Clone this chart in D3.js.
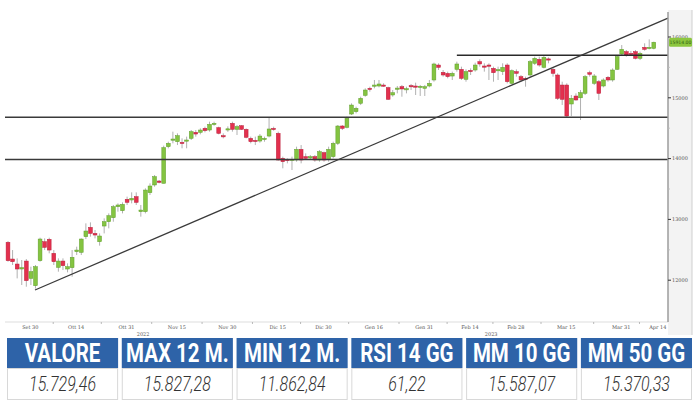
<!DOCTYPE html>
<html>
<head>
<meta charset="utf-8">
<script src="https://cdn.jsdelivr.net/npm/d3@7"></script>
<style>
html,body{margin:0;padding:0;background:#fff;}
svg{display:block;}
</style>
</head>
<body>
<script>
// ---- DATA ----
const openV = [12623,12348,12266,12184,12315,12030,11910,12321,12633,12672,12442,12211,12315,12184,12206,12469,12458,12716,12869,12770,
12633,12891,12962,13028,13209,13143,13330,13319,13374,13127,13127,13439,13566,13631,13593,14196,14306,14278,14267,14289,
14333,14432,14432,14498,14470,14563,14509,14377,14470,14580,14481,14541,14481,14333,14300,14289,14316,14371,14497,14415,
14004,13988,13977,13977,14152,14032,14010,14032,13977,14098,13988,14032,14251,14536,14514,14733,14772,14909,15040,15156,
15200,15194,15210,15167,15046,15150,15183,15145,15200,15194,15183,15156,15194,15293,15539,15419,15402,15358,15468,15468,
15304,15451,15457,15594,15523,15539,15484,15457,15430,15539,15238,15430,15348,15320,15375,15567,15632,15501,15640,15468,
15375,15210,15210,14898,15029,15000,15073,15413,15238,15265,15194,15337,15293,15468,15720,15759,15730,15759,15649,15830,
15830,15813];
const highV = [12644,12496,12359,12332,12348,12222,12250,12699,12688,12699,12496,12359,12359,12277,12496,12551,12688,12935,12951,12825,
12770,13017,13099,13237,13264,13280,13374,13445,13445,13237,13511,13593,13730,13648,14213,14278,14443,14415,14333,14361,
14470,14470,14498,14525,14607,14607,14525,14415,14530,14607,14552,14552,14497,14361,14361,14404,14361,14678,14525,14443,
14032,14004,14032,14196,14223,14086,14059,14059,14141,14114,14196,14278,14552,14552,14690,14909,14854,15018,15156,15183,
15293,15293,15238,15183,15128,15194,15211,15183,15227,15249,15211,15211,15293,15578,15567,15457,15430,15430,15594,15512,
15468,15484,15578,15632,15567,15567,15512,15512,15567,15567,15468,15468,15375,15348,15621,15676,15676,15687,15665,15501,
15402,15265,15238,15046,15073,15128,15375,15446,15391,15293,15320,15358,15484,15704,15868,15786,15770,15786,15759,15896,
15961,15923];
const lowV = [12304,12250,12030,11921,11893,11921,11862,12304,12496,12442,12250,12140,12167,12129,12058,12414,12414,12677,12716,12688,
12568,12770,12853,12962,13127,13099,13237,13264,13237,13045,13099,13401,13538,13593,13593,14169,14251,14223,14169,14169,
14306,14361,14399,14432,14443,14541,14399,14333,14440,14443,14388,14470,14333,14251,14223,14262,14278,14350,14459,13966,
13840,13922,13812,13949,13922,13977,13988,13949,13949,13949,13949,14004,14223,14470,14497,14717,14744,14881,15018,15101,
15156,15172,15183,14964,15018,15073,15018,15073,15128,15046,15030,15030,15172,15265,15457,15348,15320,15293,15430,15293,
15265,15375,15430,15512,15430,15293,15265,15293,15375,15238,15227,15348,15265,15183,15348,15539,15512,15484,15567,15348,
14964,14882,14678,14700,14953,14635,15046,15348,15210,14964,15172,15265,15265,15457,15687,15676,15700,15632,15621,15775,
15797,15797];
const closeV = [12321,12304,12184,12206,11992,12140,12222,12677,12540,12496,12304,12315,12239,12222,12376,12496,12677,12809,12770,12743,
12727,12962,13061,13209,13237,13247,13280,13346,13280,13154,13483,13549,13703,13609,14180,14251,14322,14377,14251,14306,
14443,14404,14470,14459,14563,14580,14415,14361,14490,14481,14525,14481,14350,14278,14295,14371,14333,14487,14481,13977,
13949,13966,13988,14152,13977,14004,14032,13977,14114,13977,14152,14251,14536,14497,14662,14881,14827,14991,15128,15139,
15210,15227,15205,14975,15084,15160,15145,15150,15183,15190,15190,15183,15238,15556,15501,15375,15348,15402,15556,15320,
15430,15430,15539,15556,15512,15523,15413,15463,15501,15265,15446,15402,15293,15310,15594,15649,15539,15665,15632,15402,
14991,14975,14700,14991,14964,15084,15347,15386,15359,15073,15293,15293,15457,15676,15797,15704,15720,15649,15731,15797,
15830,15914];

const xTickLabels = ["Set 30","Ott 14","Ott 31","Nov 15","Nov 30","Dic 15","Dic 30","Gen 16","Gen 31","Feb 14","Feb 28","Mar 15","Mar 31","Apr 14"];
const xTickIdx    = [4,14,25,36,47,58,68,79,90,100,110,121,133,141];
const yearLabels  = ["2022","2023"];
const yearIdx     = [29.5,105.5];
const yTicks      = [12000,13000,14000,15000,16000];
const levelValues = [14680,13985];          // full-width support/resistance
const shortLevel  = {fromIdx:98, value:15700};
const trendPts    = [[5.9,11839],[144.1,16312]];

const headers = ["VALORE","MAX 12 M.","MIN 12 M.","RSI 14 GG","MM 10 GG","MM 50 GG"];
const values  = ["15.729,46","15.827,28","11.862,84","61,22","15.587,07","15.370,33"];

// ---- DRAW ----
const svg = d3.select("body").append("svg").attr("width",700).attr("height",400);
const candles = openV.map((o,i)=>({i,o,h:highV[i],l:lowV[i],c:closeV[i]}));

const x = d3.scaleLinear().domain([0,141]).range([8,653.8]);
const y = d3.scaleLinear().domain([12000,16000]).range([280.2,37]);
const plotL = 5, plotR = 668, axisY = 322;

// right panel
svg.append("rect").attr("x",plotR).attr("y",10).attr("width",24).attr("height",325)
  .attr("fill","#f3f3f3");
svg.append("line").attr("x1",692).attr("x2",692).attr("y1",10).attr("y2",335)
  .attr("stroke","#cfcfcf").attr("stroke-width",1);

// bottom axis line
svg.append("line").attr("x1",plotL).attr("x2",plotR).attr("y1",axisY).attr("y2",axisY)
  .attr("stroke","#d4d4d4").attr("stroke-width",0.8);

// candles
const g = svg.append("g");
g.selectAll("line.wick").data(candles).join("line").attr("class","wick")
  .attr("x1",d=>x(d.i)).attr("x2",d=>x(d.i))
  .attr("y1",d=>y(d.h)).attr("y2",d=>y(d.l))
  .attr("stroke","#a8a8a8").attr("stroke-width",0.9);
g.selectAll("rect.body").data(candles).join("rect").attr("class","body")
  .attr("x",d=>x(d.i)-1.9).attr("width",3.8)
  .attr("y",d=>Math.min(y(d.o),y(d.c)))
  .attr("height",d=>Math.max(1.2,Math.abs(y(d.o)-y(d.c))))
  .attr("fill",d=>d.c>=d.o?"#84c441":"#e3304e")
  .attr("stroke",d=>d.c>=d.o?"#5f9e2a":"#b91f3a").attr("stroke-width",0.5);

// level lines
svg.selectAll("line.level").data(levelValues).join("line").attr("class","level")
  .attr("x1",plotL).attr("x2",plotR).attr("y1",d=>y(d)).attr("y2",d=>y(d))
  .attr("stroke","#3a3a3a").attr("stroke-width",1.3);
svg.append("line").attr("x1",x(shortLevel.fromIdx)).attr("x2",plotR)
  .attr("y1",y(shortLevel.value)).attr("y2",y(shortLevel.value))
  .attr("stroke","#2a2a2a").attr("stroke-width",1.4);
// trend line
svg.append("line")
  .attr("x1",x(trendPts[0][0])).attr("y1",y(trendPts[0][1]))
  .attr("x2",x(trendPts[1][0])).attr("y2",y(trendPts[1][1]))
  .attr("stroke","#3a3a3a").attr("stroke-width",1.3);

// right axis
const yAxis = svg.append("g");
yAxis.append("line").attr("x1",plotR).attr("x2",plotR).attr("y1",12).attr("y2",axisY)
  .attr("stroke","#9c9c9c").attr("stroke-width",1.5);
const minor = d3.range(12500,16000,1000);
yAxis.selectAll("line.minor").data(minor).join("line").attr("class","minor")
  .attr("x1",plotR).attr("x2",plotR+2).attr("y1",d=>y(d)).attr("y2",d=>y(d))
  .attr("stroke","#bbb").attr("stroke-width",0.8);
yAxis.selectAll("line.major").data(yTicks).join("line").attr("class","major")
  .attr("x1",plotR).attr("x2",plotR+3).attr("y1",d=>y(d)).attr("y2",d=>y(d))
  .attr("stroke","#333").attr("stroke-width",1);
yAxis.selectAll("text").data(yTicks).join("text")
  .attr("x",plotR+4).attr("y",d=>y(d)).attr("dy","0.35em")
  .attr("font-family","DejaVu Serif, serif").attr("font-size",5).attr("fill","#555")
  .text(d=>d);

// last price tag
const last = candles[candles.length-1];
svg.append("rect").attr("x",plotR+1).attr("y",y(last.c)-4.5).attr("width",23).attr("height",9)
  .attr("rx",1.5).attr("fill","#8cc63f");
svg.append("text").attr("x",plotR+12.5).attr("y",y(last.c)).attr("dy","0.35em")
  .attr("text-anchor","middle").attr("font-family","DejaVu Sans, sans-serif")
  .attr("font-size",4.6).attr("fill","#2f5f12").text(last.c.toFixed(2));

// x axis labels
const xl = svg.append("g");
xl.selectAll("text").data(xTickIdx).join("text")
  .attr("x",d=>x(d)+4).attr("y",axisY+6.5).attr("text-anchor","middle")
  .attr("font-family","DejaVu Serif, serif").attr("font-size",5).attr("fill","#555")
  .text((d,i)=>xTickLabels[i]);
const mids = xTickIdx.slice(0,-1).map((d,i)=>(d+xTickIdx[i+1])/2);
xl.selectAll("line").data(mids).join("line")
  .attr("x1",d=>x(d)+4).attr("x2",d=>x(d)+4).attr("y1",axisY).attr("y2",axisY+2)
  .attr("stroke","#aaa").attr("stroke-width",0.8);
xl.selectAll("text.year").data(yearIdx).join("text").attr("class","year")
  .attr("x",d=>x(d)).attr("y",axisY+14).attr("text-anchor","middle")
  .attr("font-family","DejaVu Serif, serif").attr("font-size",5).attr("fill","#555")
  .text((d,i)=>yearLabels[i]);

// table
const cx = d3.scaleBand().domain(d3.range(headers.length)).range([7,692]).paddingInner(0.032);
const tb = svg.append("g");
tb.selectAll("rect.h").data(headers).join("rect").attr("class","h")
  .attr("x",(d,i)=>cx(i)).attr("y",338).attr("width",cx.bandwidth()).attr("height",30)
  .attr("fill","#2e63a8");
tb.selectAll("text.h").data(headers).join("text").attr("class","h")
  .attr("transform",(d,i)=>`translate(${cx(i)+cx.bandwidth()/2},361.5) scale(0.82,1)`)
  .attr("text-anchor","middle")
  .attr("font-family","Roboto, Liberation Sans, sans-serif")
  .attr("font-weight","bold").attr("font-size",25).attr("fill","#fff")
  .text(d=>d);
tb.selectAll("rect.v").data(values).join("rect").attr("class","v")
  .attr("x",(d,i)=>cx(i)+0.5).attr("y",368.5).attr("width",cx.bandwidth()-1).attr("height",31)
  .attr("fill","#fff").attr("stroke","#d8d8d8").attr("stroke-width",1);
tb.selectAll("text.v").data(values).join("text").attr("class","v")
  .attr("transform",(d,i)=>`translate(${cx(i)+cx.bandwidth()/2},391) scale(0.8,1)`)
  .attr("text-anchor","middle")
  .attr("font-family","Roboto, Liberation Sans, sans-serif")
  .attr("font-style","italic").attr("font-weight",300).attr("font-size",20).attr("fill","#333")
  .text(d=>d);
</script>
</body>
</html>
